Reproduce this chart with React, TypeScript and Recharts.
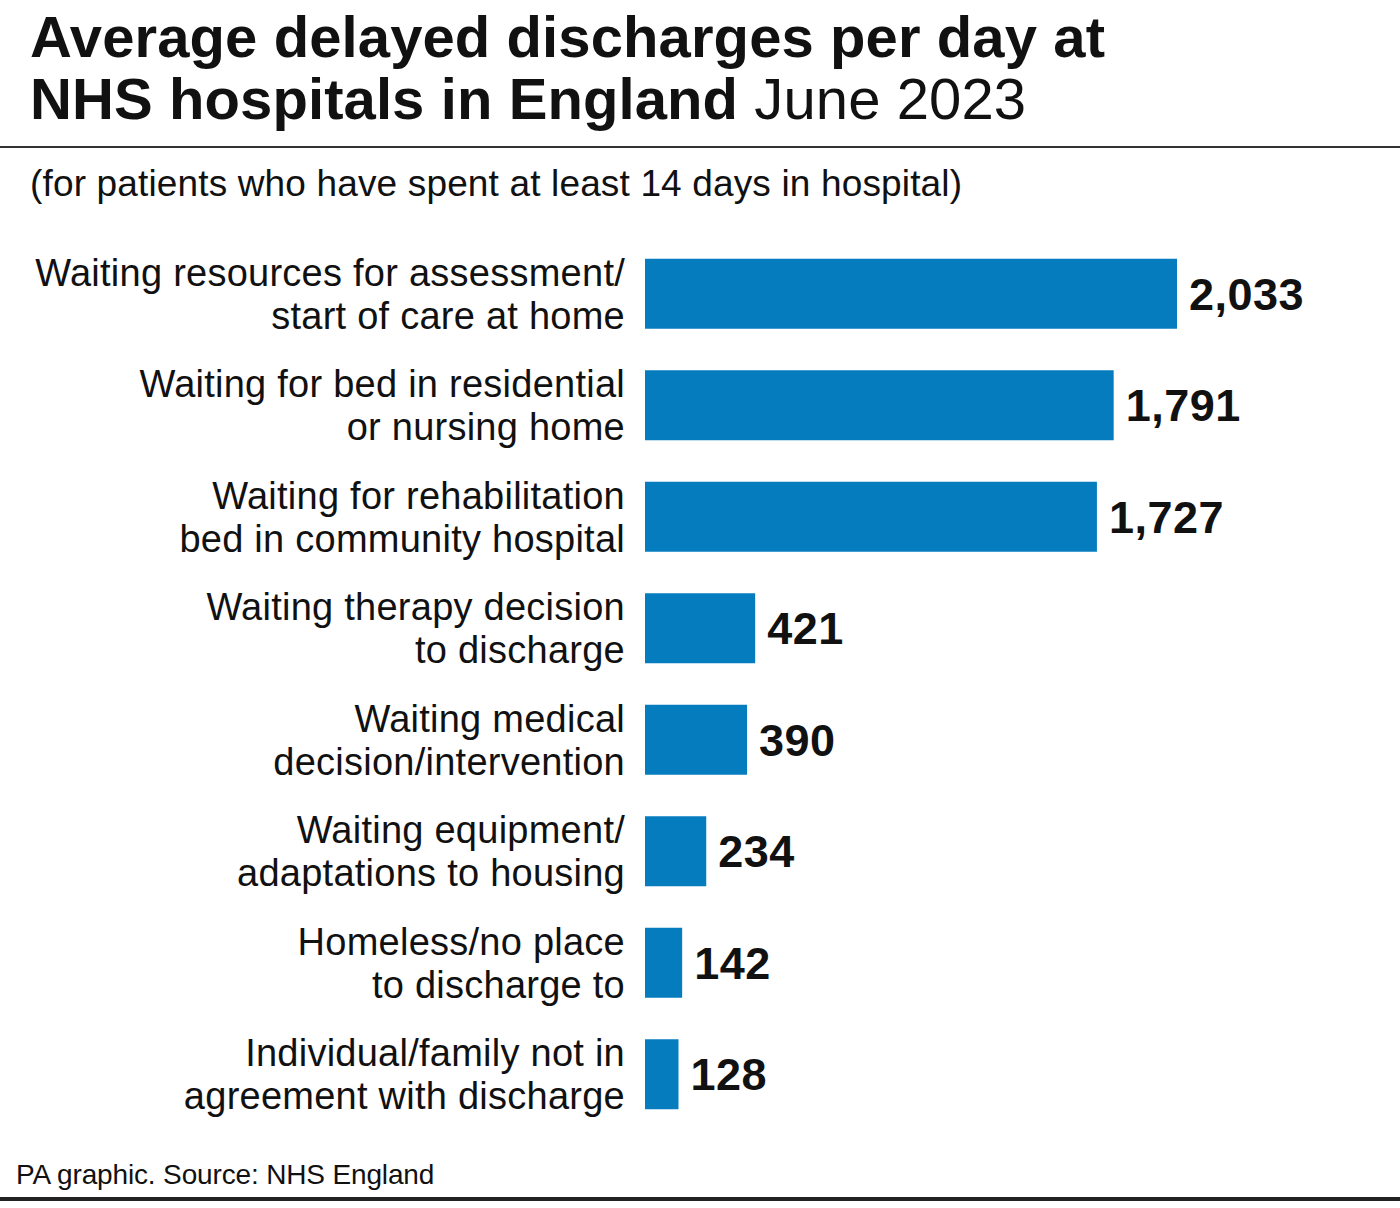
import React from 'react';
import { BarChart, Bar, XAxis, YAxis, LabelList } from 'recharts';

const reasons = [
  'Waiting resources for assessment/\nstart of care at home',
  'Waiting for bed in residential\nor nursing home',
  'Waiting for rehabilitation\nbed in community hospital',
  'Waiting therapy decision\nto discharge',
  'Waiting medical\ndecision/intervention',
  'Waiting equipment/\nadaptations to housing',
  'Homeless/no place\nto discharge to',
  'Individual/family not in\nagreement with discharge',
];
const delayed = [2033, 1791, 1727, 421, 390, 234, 142, 128];

const data = reasons.map((reason, i) => ({ reason, delayed: delayed[i] }));

const FONT = '"Liberation Sans", Arial, sans-serif';

function ReasonTick({ x, y, payload }: any) {
  const lines = String(payload.value).split('\n');
  return (
    <text x={x - 12} y={y} textAnchor="end" fontFamily={FONT} fontSize={38} fill="#111" letterSpacing={0.25}>
      {lines.map((line, i) => (
        <tspan key={i} x={x - 12} dy={i === 0 ? -8 : 43}>
          {line}
        </tspan>
      ))}
    </text>
  );
}

export default function App() {
  return (
    <div style={{ position: 'absolute', left: 0, top: 0, width: 1400, height: 1208, background: '#fff', fontFamily: FONT, color: '#111' }}>
      <div style={{ position: 'absolute', left: 30, top: 6, fontSize: 58, lineHeight: '62px', fontWeight: 700, letterSpacing: 0.1, whiteSpace: 'nowrap' }}>
        Average delayed discharges per day at
        <br />
        NHS hospitals in England <span style={{ fontWeight: 400 }}>June 2023</span>
      </div>
      <div style={{ position: 'absolute', left: 0, top: 146, width: 1400, height: 2, background: '#333' }} />
      <div style={{ position: 'absolute', left: 30, top: 163, fontSize: 37, letterSpacing: 0.15, whiteSpace: 'nowrap' }}>
        (for patients who have spent at least 14 days in hospital)
      </div>
      <div style={{ position: 'absolute', left: 0, top: 0 }}>
        <BarChart
          width={1400}
          height={1208}
          data={data}
          layout="vertical"
          margin={{ top: 238, right: 223, bottom: 78, left: 0 }}
          barCategoryGap="18.6%"
        >
          <XAxis type="number" domain={[0, 'dataMax']} hide />
          <YAxis type="category" dataKey="reason" width={645} axisLine={false} tickLine={false} tick={<ReasonTick />} />
          <Bar dataKey="delayed" fill="#047cbe" isAnimationActive={false}>
            <LabelList
              dataKey="delayed"
              position="right"
              offset={12}
              formatter={(v: number) => v.toLocaleString('en-GB')}
              style={{ fontFamily: FONT, fontSize: 45, fontWeight: 700, fill: '#111', letterSpacing: 0.5 }}
            />
          </Bar>
        </BarChart>
      </div>
      <div style={{ position: 'absolute', left: 16, top: 1159, fontSize: 28, letterSpacing: -0.15, whiteSpace: 'nowrap' }}>
        PA graphic. Source: NHS England
      </div>
      <div style={{ position: 'absolute', left: 0, top: 1197, width: 1400, height: 4, background: '#222' }} />
    </div>
  );
}
